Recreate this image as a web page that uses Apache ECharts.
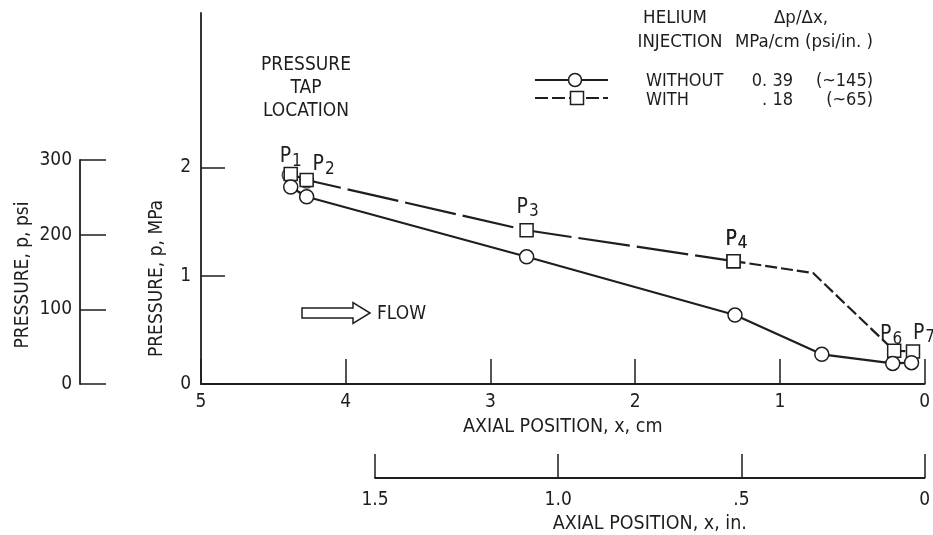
<!DOCTYPE html>
<html>
<head>
<meta charset="utf-8">
<script src="https://cdn.jsdelivr.net/npm/echarts@6/dist/echarts.min.js"></script>
<style>
  html, body { margin: 0; padding: 0; background: #fff; }
  #chart { width: 933px; height: 535px; }
</style>
</head>
<body>
<div id="chart"></div>
<script>
// Pressure tap readings along the axial position (cm) and pressure (MPa)
const tapNames = ['1', '2', '3', '4', '5', '6', '7'];
const withX = [4.38, 4.27, 2.75, 1.32, 0.77, 0.21, 0.08];
const withP = [1.94, 1.885, 1.42, 1.135, 1.025, 0.307, 0.30];
const withoutX = [4.38, 4.27, 2.75, 1.31, 0.71, 0.22, 0.09];
const withoutP = [1.82, 1.73, 1.175, 0.637, 0.274, 0.19, 0.197];
// second set of open circles recorded at the first two taps
const repeatX = [4.39, 4.27];
const repeatP = [1.93, 1.875];

// axis ticks
const cmTicks = [5, 4, 3, 2, 1, 0];
const mpaTicks = [0, 1, 2];
const psiTicks = [0, 100, 200, 300];
const inchTicks = [1.5, 1.0, 0.5, 0];
const inchTickLabels = ['1.5', '1.0', '.5', '0'];

// legend table
const legendHeader = [['HELIUM', 'INJECTION'], ['\u0394p/\u0394x,', 'MPa/cm (psi/in. )']];
const legendRows = [['WITHOUT', '0. 39', '(~145)'], ['WITH', '. 18', '(~65)']];

const INK = '#1e1e1e';
const FONT = "'DejaVu Sans Condensed', 'Liberation Sans Narrow', 'DejaVu Sans', sans-serif";

const chart = echarts.init(document.getElementById('chart'), null, { renderer: 'canvas' });

// label offsets for the tap names, keyed by tap index
const tapLabelOffset = [[0, -17], [17, -15], [1, -23], [3, -22], [10, -16], [-3, -16], [11, -18]];
const tapNoMarker = 4; // P5 is a corner of the dashed curve, no marker

function tapItem(i) {
  const item = {
    value: [withX[i], withP[i]],
    label: {
      show: true,
      position: 'inside',
      offset: tapLabelOffset[i],
      formatter: '{p|P}{s|' + tapNames[i] + '}'
    }
  };
  if (i === tapNoMarker) item.symbol = 'none';
  return item;
}

const withData = withX.map((x, i) => tapItem(i));
const withoutData = withoutX.map((x, i) => [x, withoutP[i]]);
const repeatData = repeatX.map((x, i) => [x, repeatP[i]]);

const tapRich = {
  p: { fontFamily: FONT, fontSize: 21, color: INK, lineHeight: 24 },
  s: { fontFamily: FONT, fontSize: 17, color: INK, padding: [9, 0, 0, 1], lineHeight: 24 }
};

const textBase = { fontFamily: FONT, fill: INK };

function txt(text, x, y, align, size) {
  return { type: 'text', style: Object.assign({ text: text, x: x, y: y, align: align, verticalAlign: 'middle', fontSize: size }, textBase) };
}

function legendGraphics() {
  const g = [];
  g.push(txt(legendHeader[0][0], 675, 18, 'center', 18.5));
  g.push(txt(legendHeader[0][1], 680, 42, 'center', 18.5));
  g.push(txt(legendHeader[1][0], 801, 18, 'center', 18.5));
  g.push(txt(legendHeader[1][1], 804, 42, 'center', 18.5));
  const rowY = [81, 100];
  legendRows.forEach((row, r) => {
    g.push(txt(row[0], 646, rowY[r], 'left', 18));
    g.push(txt(row[1], 793, rowY[r], 'right', 18));
    g.push(txt(row[2], 873, rowY[r], 'right', 18));
  });
  // sample strokes
  g.push({ type: 'line', shape: { x1: 535, y1: 80, x2: 608, y2: 80 }, style: { stroke: INK, lineWidth: 2 } });
  g.push({ type: 'circle', shape: { cx: 575, cy: 80, r: 6.5 }, style: { fill: '#fff', stroke: INK, lineWidth: 1.5 } });
  g.push({ type: 'line', shape: { x1: 535, y1: 98, x2: 608, y2: 98 }, style: { stroke: INK, lineWidth: 2, lineDash: [13, 4] } });
  g.push({ type: 'rect', shape: { x: 570.5, y: 91.5, width: 13, height: 13 }, style: { fill: '#fff', stroke: INK, lineWidth: 1.5 } });
  return g;
}

const option = {
  backgroundColor: '#fff',
  animation: false,
  textStyle: { fontFamily: FONT, color: INK },
  grid: [
    { left: 201, top: 13, width: 724, height: 371 },
    { left: 80, top: 160, width: 1, height: 224 },
    { left: 375, top: 440, width: 550, height: 39 }
  ],
  xAxis: [
    {
      gridIndex: 0, type: 'value', min: 0, max: 5, interval: 1, inverse: true, position: 'bottom',
      name: 'AXIAL POSITION, x, cm', nameLocation: 'middle', nameGap: 33,
      nameTextStyle: { fontFamily: FONT, fontSize: 19.5, color: INK },
      axisLine: { onZero: false, lineStyle: { color: INK, width: 1.8 } },
      axisTick: { inside: true, length: 25, customValues: cmTicks, lineStyle: { color: INK, width: 1.5 } },
      axisLabel: { customValues: cmTicks, margin: 9, fontFamily: FONT, fontSize: 19, color: INK },
      splitLine: { show: false }
    },
    { gridIndex: 1, type: 'value', show: false, min: 0, max: 1 },
    {
      gridIndex: 2, type: 'value', min: 0, max: 1.5, interval: 0.5, inverse: true, position: 'bottom',
      name: 'AXIAL POSITION, x, in.', nameLocation: 'middle', nameGap: 36,
      nameTextStyle: { fontFamily: FONT, fontSize: 19.5, color: INK },
      axisLine: { onZero: false, lineStyle: { color: INK, width: 1.8 } },
      axisTick: { inside: true, length: 24, customValues: inchTicks, lineStyle: { color: INK, width: 1.5 } },
      axisLabel: {
        customValues: inchTicks, margin: 13, fontFamily: FONT, fontSize: 19, color: INK,
        formatter: v => inchTickLabels[inchTicks.indexOf(v)] ?? ''
      },
      splitLine: { show: false }
    }
  ],
  yAxis: [
    {
      gridIndex: 0, type: 'value', min: 0, max: 371 / 108.25, position: 'left',
      name: 'PRESSURE, p, MPa', nameLocation: 'middle', nameGap: 34, nameRotate: 90,
      nameTextStyle: { fontFamily: FONT, fontSize: 19, color: INK, padding: [0, 160, 0, 0] },
      axisLine: { show: true, onZero: false, lineStyle: { color: INK, width: 1.8 } },
      axisTick: { show: true, inside: true, length: 24, customValues: mpaTicks, lineStyle: { color: INK, width: 1.5 } },
      axisLabel: { customValues: mpaTicks, margin: 10, fontFamily: FONT, fontSize: 19, color: INK },
      splitLine: { show: false }
    },
    {
      gridIndex: 1, type: 'value', min: 0, max: 300, interval: 100, position: 'left',
      name: 'PRESSURE, p, psi', nameLocation: 'middle', nameGap: 47, nameRotate: 90,
      nameTextStyle: { fontFamily: FONT, fontSize: 19, color: INK, padding: [0, 6, 0, 0] },
      axisLine: { show: true, onZero: false, lineStyle: { color: INK, width: 1.8 } },
      axisTick: { show: true, inside: true, length: 26, customValues: psiTicks, lineStyle: { color: INK, width: 1.5 } },
      axisLabel: { customValues: psiTicks, margin: 8, fontFamily: FONT, fontSize: 19, color: INK },
      splitLine: { show: false }
    },
    { gridIndex: 2, type: 'value', show: false, min: 0, max: 1 }
  ],
  series: [
    {
      name: 'WITH', type: 'line', xAxisIndex: 0, yAxisIndex: 0,
      data: withData.slice(0, 4),
      symbol: 'rect', symbolSize: 13,
      itemStyle: { color: '#fff', borderColor: INK, borderWidth: 1.5 },
      lineStyle: { color: INK, width: 2.2, type: [52, 7] },
      label: { rich: tapRich },
      z: 2
    },
    {
      name: 'WITH', type: 'line', xAxisIndex: 0, yAxisIndex: 0,
      data: withData.slice(3),
      symbol: 'rect', symbolSize: 13,
      itemStyle: { color: '#fff', borderColor: INK, borderWidth: 1.5 },
      lineStyle: { color: INK, width: 2.2, type: [12, 4] },
      label: { rich: tapRich },
      z: 2
    },
    {
      name: 'WITHOUT', type: 'line', xAxisIndex: 0, yAxisIndex: 0,
      data: withoutData,
      symbol: 'circle', symbolSize: 14,
      itemStyle: { color: '#fff', borderColor: INK, borderWidth: 1.5 },
      lineStyle: { color: INK, width: 2.2 },
      z: 3
    },
    {
      name: 'WITHOUT', type: 'scatter', xAxisIndex: 0, yAxisIndex: 0,
      data: repeatData,
      symbol: 'circle', symbolSize: 14,
      itemStyle: { color: '#fff', borderColor: INK, borderWidth: 1.5 },
      z: 1
    }
  ],
  graphic: [
    { type: 'text', style: Object.assign({ text: 'PRESSURE\nTAP\nLOCATION', x: 306, y: 88, align: 'center', verticalAlign: 'middle', fontSize: 19, lineHeight: 23 }, textBase) },
    {
      type: 'polygon',
      shape: { points: [[302, 308], [353, 308], [353, 302.5], [370, 313], [353, 323.5], [353, 318], [302, 318]] },
      style: { fill: '#fff', stroke: INK, lineWidth: 1.5 }
    },
    txt('FLOW', 377, 314, 'left', 19)
  ].concat(legendGraphics())
};

chart.setOption(option);
</script>
</body>
</html>
